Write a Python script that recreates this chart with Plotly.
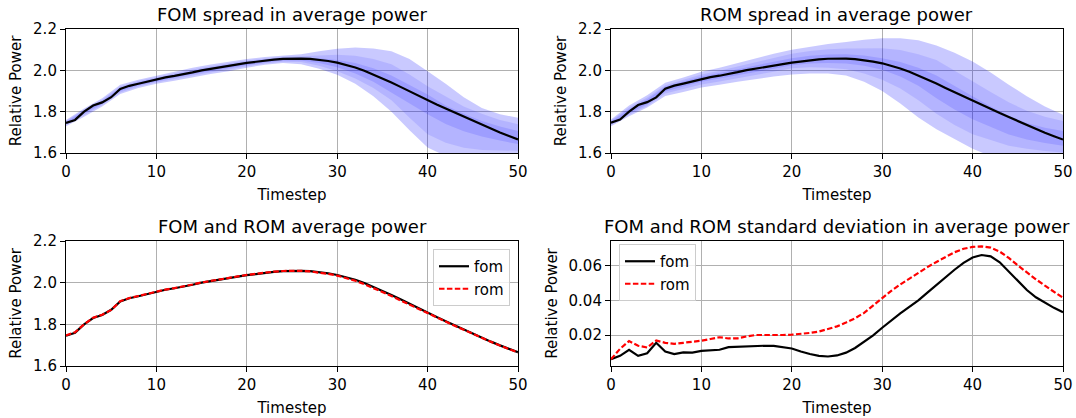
import plotly.graph_objects as go

# ---------------- data ----------------
timesteps = list(range(51))

fom_mean = [1.745, 1.760, 1.800, 1.830, 1.845, 1.870, 1.910, 1.925, 1.935, 1.945,
            1.958, 1.966, 1.973, 1.980, 1.990, 2.000, 2.008, 2.015, 2.022, 2.029,
            2.036, 2.042, 2.047, 2.052, 2.055, 2.057, 2.057, 2.055, 2.051, 2.045,
            2.037, 2.027, 2.014, 1.998, 1.980, 1.961, 1.941, 1.920, 1.898, 1.876,
            1.855, 1.835, 1.815, 1.795, 1.775, 1.755, 1.736, 1.717, 1.699, 1.682, 1.666]

rom_mean = [1.747, 1.762, 1.800, 1.832, 1.846, 1.869, 1.911, 1.926, 1.936, 1.946,
            1.958, 1.967, 1.974, 1.981, 1.991, 2.001, 2.009, 2.016, 2.023, 2.030,
            2.037, 2.043, 2.048, 2.053, 2.056, 2.057, 2.057, 2.054, 2.049, 2.042,
            2.034, 2.023, 2.009, 1.993, 1.975, 1.956, 1.936, 1.915, 1.894, 1.873,
            1.852, 1.832, 1.813, 1.793, 1.774, 1.754, 1.735, 1.716, 1.698, 1.681, 1.665]

fom_std = [0.0060, 0.0080, 0.0115, 0.0080, 0.0095, 0.0155, 0.0105, 0.0090, 0.0100, 0.0098,
           0.0108, 0.0110, 0.0115, 0.0130, 0.0133, 0.0133, 0.0135, 0.0138, 0.0137, 0.0130,
           0.0122, 0.0105, 0.0090, 0.0080, 0.0076, 0.0082, 0.0098, 0.0125, 0.0160, 0.0198,
           0.0242, 0.0285, 0.0325, 0.0363, 0.0400, 0.0445, 0.0490, 0.0535, 0.0577, 0.0617,
           0.0648, 0.0662, 0.0654, 0.0620, 0.0566, 0.0510, 0.0460, 0.0418, 0.0385, 0.0357, 0.0332]

rom_std = [0.0060, 0.0120, 0.0165, 0.0138, 0.0128, 0.0168, 0.0155, 0.0149, 0.0155, 0.0160,
           0.0167, 0.0177, 0.0187, 0.0180, 0.0181, 0.0192, 0.0200, 0.0200, 0.0199, 0.0200,
           0.0202, 0.0206, 0.0212, 0.0220, 0.0233, 0.0250, 0.0272, 0.0297, 0.0328, 0.0370,
           0.0415, 0.0455, 0.0492, 0.0527, 0.0560, 0.0592, 0.0622, 0.0652, 0.0678, 0.0698,
           0.0709, 0.0712, 0.0705, 0.0682, 0.0645, 0.0602, 0.0560, 0.0522, 0.0485, 0.0450, 0.0415]

# spread bands (sampled every 2 timesteps)
band_t = list(range(0, 51, 2))

fom_out_hi = [1.760, 1.815, 1.865, 1.930, 1.955, 1.975, 1.992, 2.012, 2.028, 2.042, 2.055, 2.065, 2.072,
              2.078, 2.092, 2.104, 2.110, 2.106, 2.092, 2.055, 1.995, 1.935, 1.870, 1.818, 1.787, 1.771]
fom_mid_hi = [1.755, 1.810, 1.858, 1.922, 1.948, 1.968, 1.985, 2.004, 2.020, 2.034, 2.047, 2.058, 2.066,
              2.068, 2.073, 2.075, 2.070, 2.055, 2.030, 1.980, 1.923, 1.875, 1.825, 1.790, 1.760, 1.739]
fom_in_hi = [1.750, 1.805, 1.852, 1.915, 1.942, 1.962, 1.979, 1.997, 2.014, 2.027, 2.040, 2.052, 2.060,
             2.062, 2.058, 2.050, 2.035, 2.010, 1.975, 1.930, 1.883, 1.830, 1.790, 1.755, 1.728, 1.707]
fom_in_lo = [1.740, 1.792, 1.838, 1.900, 1.928, 1.948, 1.965, 1.982, 1.999, 2.012, 2.026, 2.039, 2.047,
             2.048, 2.035, 2.015, 1.985, 1.945, 1.895, 1.840, 1.787, 1.740, 1.705, 1.680, 1.660, 1.643]
fom_mid_lo = [1.735, 1.785, 1.832, 1.893, 1.922, 1.942, 1.958, 1.975, 1.992, 2.005, 2.020, 2.033, 2.041,
              2.040, 2.022, 1.995, 1.960, 1.915, 1.855, 1.770, 1.691, 1.650, 1.625, 1.615, 1.612, 1.611]
fom_out_lo = [1.730, 1.775, 1.825, 1.885, 1.915, 1.935, 1.950, 1.965, 1.982, 1.995, 2.012, 2.027, 2.035,
              2.030, 2.008, 1.979, 1.935, 1.875, 1.800, 1.710, 1.627, 1.585, 1.560, 1.550, 1.550, 1.550]

rom_out_hi = [1.762, 1.830, 1.880, 1.940, 1.965, 1.993, 2.012, 2.035, 2.058, 2.080, 2.100, 2.115, 2.127,
              2.137, 2.148, 2.155, 2.155, 2.146, 2.120, 2.085, 2.043, 1.990, 1.930, 1.875, 1.825, 1.785]
rom_mid_hi = [1.757, 1.820, 1.868, 1.928, 1.955, 1.980, 1.998, 2.018, 2.040, 2.060, 2.080, 2.093, 2.102,
              2.106, 2.108, 2.107, 2.098, 2.078, 2.050, 2.000, 1.947, 1.895, 1.845, 1.805, 1.775, 1.755]
rom_in_hi = [1.752, 1.812, 1.860, 1.920, 1.946, 1.970, 1.987, 2.006, 2.024, 2.042, 2.058, 2.070, 2.077,
             2.078, 2.072, 2.059, 2.040, 2.012, 1.975, 1.927, 1.875, 1.825, 1.780, 1.745, 1.722, 1.707]
rom_in_lo = [1.740, 1.792, 1.836, 1.898, 1.922, 1.945, 1.960, 1.977, 1.992, 2.008, 2.025, 2.033, 2.036,
             2.033, 2.022, 2.003, 1.970, 1.925, 1.865, 1.810, 1.763, 1.725, 1.690, 1.665, 1.648, 1.635]
rom_mid_lo = [1.735, 1.785, 1.828, 1.888, 1.910, 1.932, 1.946, 1.962, 1.976, 1.993, 2.010, 2.015, 2.013,
              2.005, 1.985, 1.955, 1.912, 1.855, 1.790, 1.735, 1.691, 1.662, 1.635, 1.620, 1.610, 1.603]
rom_out_lo = [1.730, 1.778, 1.820, 1.876, 1.895, 1.917, 1.930, 1.945, 1.958, 1.970, 1.980, 1.985, 1.985,
              1.975, 1.945, 1.900, 1.840, 1.772, 1.715, 1.668, 1.620, 1.585, 1.560, 1.550, 1.550, 1.550]

titles = ["FOM spread in average power", "ROM spread in average power",
          "FOM and ROM average power", "FOM and ROM standard deviation in average power"]
x_ticks = [0, 10, 20, 30, 40, 50]
power_ticks = [1.6, 1.8, 2.0, 2.2]
std_ticks = [0.02, 0.04, 0.06]

# ---------------- figure ----------------
FONT = "DejaVu Sans"
fig = go.Figure()

BAND_COLORS = ["rgba(0,0,255,0.21)", "rgba(0,0,255,0.10)", "rgba(0,0,255,0.12)"]


def add_band(xa, ya, lo, hi, color):
    fig.add_trace(go.Scatter(
        x=band_t + band_t[::-1], y=hi + lo[::-1], fill="toself", fillcolor=color,
        mode="lines", line=dict(width=0), hoverinfo="skip", showlegend=False,
        xaxis=xa, yaxis=ya))


for (lo, hi), c in zip([(fom_out_lo, fom_out_hi), (fom_mid_lo, fom_mid_hi), (fom_in_lo, fom_in_hi)], BAND_COLORS):
    add_band("x", "y", lo, hi, c)
fig.add_trace(go.Scatter(x=timesteps, y=fom_mean, mode="lines", line=dict(color="black", width=2.2),
                         showlegend=False, xaxis="x", yaxis="y"))

for (lo, hi), c in zip([(rom_out_lo, rom_out_hi), (rom_mid_lo, rom_mid_hi), (rom_in_lo, rom_in_hi)], BAND_COLORS):
    add_band("x2", "y2", lo, hi, c)
fig.add_trace(go.Scatter(x=timesteps, y=rom_mean, mode="lines", line=dict(color="black", width=2.2),
                         showlegend=False, xaxis="x2", yaxis="y2"))

DASH = "5.5px,2.4px"
fig.add_trace(go.Scatter(x=timesteps, y=fom_mean, mode="lines", name="fom",
                         line=dict(color="black", width=2.2), xaxis="x3", yaxis="y3", legend="legend"))
fig.add_trace(go.Scatter(x=timesteps, y=rom_mean, mode="lines", name="rom",
                         line=dict(color="red", width=2.2, dash=DASH), xaxis="x3", yaxis="y3", legend="legend"))

fig.add_trace(go.Scatter(x=timesteps, y=fom_std, mode="lines", name="fom",
                         line=dict(color="black", width=2.2), xaxis="x4", yaxis="y4", legend="legend2"))
fig.add_trace(go.Scatter(x=timesteps, y=rom_std, mode="lines", name="rom",
                         line=dict(color="red", width=2.2, dash=DASH), xaxis="x4", yaxis="y4", legend="legend2"))

W, H = 1076, 418
xl = [66 / W, 518 / W]
xr = [611 / W, 1063 / W]
yt = [1 - 153 / H, 1 - 29 / H]
yb = [1 - 366 / H, 1 - 241 / H]

axis_common = dict(
    showline=True, mirror=True, linecolor="black", linewidth=1.1,
    ticks="outside", ticklen=5, tickwidth=1.1, tickcolor="black",
    showgrid=True, gridcolor="#b0b0b0", gridwidth=1.1, zeroline=False,
    tickfont=dict(family=FONT, size=15, color="black"), automargin=False,
)


def xaxis(domain, anchor):
    return dict(axis_common, domain=domain, anchor=anchor, range=[0, 50], tickvals=x_ticks,
                title=dict(text="Timestep", font=dict(family=FONT, size=15, color="black"), standoff=9))


def yaxis(domain, anchor, rng, ticks, fmt):
    return dict(axis_common, domain=domain, anchor=anchor, range=rng, tickvals=ticks, tickformat=fmt,
                title=dict(text="Relative Power", font=dict(family=FONT, size=15, color="black"), standoff=7))


annotations = []
for (dx, dy), txt in zip([(xl, yt), (xr, yt), (xl, yb), (xr, yb)], titles):
    annotations.append(dict(text=txt, x=(dx[0] + dx[1]) / 2, y=dy[1] + 14.5 / H, xref="paper", yref="paper",
                            xanchor="center", yanchor="middle", showarrow=False,
                            font=dict(family=FONT, size=18, color="black")))

legend_common = dict(bgcolor="rgba(255,255,255,0.8)", bordercolor="#cccccc", borderwidth=1,
                     font=dict(family=FONT, size=15, color="black"), itemwidth=30)

fig.update_layout(
    width=W, height=H,
    margin=dict(l=0, r=0, t=0, b=0),
    paper_bgcolor="white", plot_bgcolor="white",
    font=dict(family=FONT, size=15, color="black"),
    xaxis=xaxis(xl, "y"), yaxis=yaxis(yt, "x", [1.6, 2.2], power_ticks, ".1f"),
    xaxis2=xaxis(xr, "y2"), yaxis2=yaxis(yt, "x2", [1.6, 2.2], power_ticks, ".1f"),
    xaxis3=xaxis(xl, "y3"), yaxis3=yaxis(yb, "x3", [1.6, 2.2], power_ticks, ".1f"),
    xaxis4=xaxis(xr, "y4"), yaxis4=yaxis(yb, "x4", [0.0021, 0.0743], std_ticks, ".2f"),
    legend=dict(legend_common, x=510 / W, y=1 - 249 / H, xanchor="right", yanchor="top"),
    legend2=dict(legend_common, x=619 / W, y=1 - 244 / H, xanchor="left", yanchor="top"),
    annotations=annotations,
    showlegend=True,
)

fig.write_html("out.html")
